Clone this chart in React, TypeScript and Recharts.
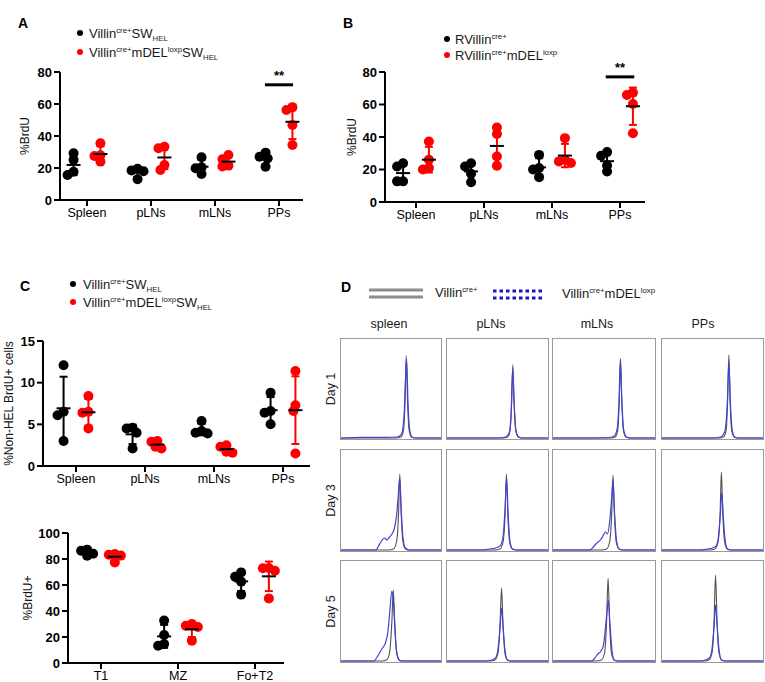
import React from 'react';
import { ScatterChart, Scatter, XAxis, YAxis, ErrorBar, ReferenceLine, LineChart, Line } from 'recharts';

const FONT = '"Liberation Sans", Arial, Helvetica, sans-serif';

// categories
const organs = ['Spleen', 'pLNs', 'mLNs', 'PPs'];
const subsets = ['T1', 'MZ', 'Fo+T2'];
const histCols = ['spleen', 'pLNs', 'mLNs', 'PPs'];
const histDays = ['Day 1', 'Day 3', 'Day 5'];

// A: %BrdU, one array of mice per organ
const aCtrl = [[29.2, 15.6, 17.7, 25.1], [13, 18, 18.5, 19.5], [26.7, 19.8, 16.3, 20.4], [29.6, 20.8, 26, 27]];
const aKo = [[35.5, 28, 24, 27.5], [33.3, 32.3, 18.8, 21.9], [25.4, 28.1, 21, 21.5], [57.9, 56.3, 46.9, 34.4]];

// B: %BrdU, RVillin
const bCtrl = [[23.9, 21.9, 12.7, 12.7], [23.9, 17.4, 12.1, 21.9], [29, 15.3, 20.9, 20], [30.7, 18.8, 22.5, 28.5]];
const bKo = [[37.2, 26, 20.9, 20], [45.8, 41.9, 28, 22.3], [39.3, 26, 25, 24], [65.8, 67.3, 60.3, 42.3]];

// C: %Non-HEL BrdU+ cells
const cCtrl = [[12.1, 6.5, 6.1, 3], [4.5, 4.6, 2.1, 4.0], [5.4, 3.9, 4.0, 4.2], [6.6, 8.8, 5.0, 6.4]];
const cKo = [[8.4, 6.5, 6.4, 4.5], [2.9, 3.0, 2.1, 2.3], [2.3, 2.5, 1.7, 1.6], [11.4, 7.3, 6.6, 1.5]];

// bottom left: %BrdU+ by B cell subset
const eCtrl = [[86.4, 87.2, 82.5, 84], [32.6, 14.6, 13.3, 21.5], [69.7, 66.4, 52.6, 62.5]];
const eKo = [[83.3, 83.8, 77.4, 82.6], [30, 17.2, 28.7, 27.7], [73.1, 71, 49.7, 72.9]];

// D: histogram traces as [channel %, count % of max]
type Pt = [number, number];
const d1SpleenCtrl: Pt[] = [[0, 0], [55, 0], [60, 1], [62.5, 8], [64, 35], [65.2, 83], [66.5, 38], [68, 9], [70.5, 1], [74, 0], [100, 0]];
const d1SpleenKo: Pt[] = [[0, 0], [20, 0.6], [45, 0.6], [56, 1], [60.5, 4], [63, 22], [64.6, 62], [65.6, 80], [67, 36], [68.6, 9], [71, 1], [75, 0], [100, 0]];
const d1PlnCtrl: Pt[] = [[0, 0], [56, 0], [60, 1], [62.5, 8], [64, 36], [65.2, 74], [66.4, 36], [68, 8], [70.5, 1], [74, 0], [100, 0]];
const d1PlnKo: Pt[] = [[0, 0], [50, 0], [58, 1], [61.5, 5], [63.5, 25], [65, 70], [66.5, 35], [68.3, 8], [71, 1], [75, 0], [100, 0]];
const d1MlnCtrl: Pt[] = [[0, 0], [57, 0], [61, 1], [63.5, 8], [65, 38], [66.2, 80], [67.4, 38], [69, 8], [71.5, 1], [75, 0], [100, 0]];
const d1MlnKo: Pt[] = [[0, 0], [40, 0], [55, 0.5], [60, 2], [63, 10], [64.8, 40], [66, 79], [67.5, 38], [69.2, 9], [72, 1], [76, 0], [100, 0]];
const d1PpCtrl: Pt[] = [[0, 0], [57, 0], [61, 1], [63.5, 8], [65, 38], [66.2, 84], [67.4, 38], [69, 8], [71.5, 1], [75, 0], [100, 0]];
const d1PpKo: Pt[] = [[0, 0], [50, 0], [58, 1], [62, 6], [64.5, 32], [66.2, 76], [67.8, 34], [69.5, 8], [72, 1], [76, 0], [100, 0]];

const d3SpleenCtrl: Pt[] = [[0, 0], [48, 0], [52.5, 1], [55.5, 8], [57.5, 35], [58.8, 76], [60.2, 36], [62, 8], [64.5, 1], [68, 0], [100, 0]];
const d3SpleenKo: Pt[] = [[0, 0], [35, 0], [37.5, 4], [40.5, 9], [43.5, 12], [46, 10], [48.5, 13], [51, 16], [53.5, 22], [55.5, 34], [57.3, 55], [58.6, 72], [60, 45], [62, 12], [64.5, 2], [68, 0], [100, 0]];
const d3PlnCtrl: Pt[] = [[0, 0], [48, 0], [52.5, 1], [55.5, 8], [57.5, 35], [58.8, 76], [60.2, 36], [62, 8], [64.5, 1], [68, 0], [100, 0]];
const d3PlnKo: Pt[] = [[0, 0], [36, 0], [42, 1], [48, 2], [52.5, 4], [55.5, 13], [57.5, 42], [59, 72], [60.5, 36], [62.3, 9], [65, 1], [69, 0], [100, 0]];
const d3MlnCtrl: Pt[] = [[0, 0], [48, 0], [52.5, 1], [55.5, 8], [57.5, 35], [58.8, 75], [60.2, 36], [62, 8], [64.5, 1], [68, 0], [100, 0]];
const d3MlnKo: Pt[] = [[0, 0], [36, 0], [39.5, 3], [43, 7], [46.5, 10], [49.5, 15], [51.5, 18], [53.5, 16], [55.5, 28], [57.5, 52], [58.8, 70], [60.3, 38], [62.2, 10], [65, 1], [69, 0], [100, 0]];
const d3PpCtrl: Pt[] = [[0, 0], [48, 0], [52.5, 1], [55.5, 8], [57.5, 36], [58.8, 78], [60.2, 36], [62, 8], [64.5, 1], [68, 0], [100, 0]];
const d3PpKo: Pt[] = [[0, 0], [38, 0], [45, 1], [50, 2], [53.5, 4], [56, 14], [57.8, 36], [59.2, 57], [60.7, 33], [62.5, 10], [65, 1], [69, 0], [100, 0]];

const d5SpleenCtrl: Pt[] = [[0, 0], [41, 0], [45.5, 1], [48.5, 8], [50.8, 38], [52.3, 71], [53.8, 38], [55.5, 9], [58, 1], [62, 0], [100, 0]];
const d5SpleenKo: Pt[] = [[0, 0], [33, 0], [35.5, 3], [38.5, 8], [41.5, 13], [44.5, 18], [47, 30], [49, 52], [50.8, 70], [52.5, 58], [54.2, 26], [56.5, 5], [59.5, 0], [100, 0]];
const d5PlnCtrl: Pt[] = [[0, 0], [43, 0], [47.5, 1], [50.5, 8], [52.5, 36], [54, 73], [55.5, 36], [57.3, 8], [59.8, 1], [63, 0], [100, 0]];
const d5PlnKo: Pt[] = [[0, 0], [38, 0], [44, 1], [48, 3], [50.5, 12], [52.5, 33], [54, 53], [55.6, 33], [57.5, 10], [60, 1], [64, 0], [100, 0]];
const d5MlnCtrl: Pt[] = [[0, 0], [43, 0], [47.5, 1], [50.5, 8], [52.5, 38], [54, 83], [55.5, 38], [57.3, 8], [59.8, 1], [63, 0], [100, 0]];
const d5MlnKo: Pt[] = [[0, 0], [38, 0], [41, 3], [44, 7], [47, 10], [49.5, 16], [51.5, 34], [53, 50], [54.2, 61], [55.8, 38], [57.7, 12], [60, 1], [64, 0], [100, 0]];
const d5PpCtrl: Pt[] = [[0, 0], [42, 0], [46.5, 1], [49.5, 8], [51.5, 38], [53, 86], [54.5, 40], [56.3, 9], [58.8, 1], [62, 0], [100, 0]];
const d5PpKo: Pt[] = [[0, 0], [38, 0], [43, 1], [47, 3], [49.5, 12], [51.5, 34], [53, 56], [54.6, 35], [56.5, 11], [59, 1], [63, 0], [100, 0]];

const histGrid: [Pt[], Pt[]][][] = [
  [[d1SpleenCtrl, d1SpleenKo], [d1PlnCtrl, d1PlnKo], [d1MlnCtrl, d1MlnKo], [d1PpCtrl, d1PpKo]],
  [[d3SpleenCtrl, d3SpleenKo], [d3PlnCtrl, d3PlnKo], [d3MlnCtrl, d3MlnKo], [d3PpCtrl, d3PpKo]],
  [[d5SpleenCtrl, d5SpleenKo], [d5PlnCtrl, d5PlnKo], [d5MlnCtrl, d5MlnKo], [d5PpCtrl, d5PpKo]],
];

// legend text pieces
type Seg = [string, 'n' | 'sup' | 'sub'];
const helCtrl: Seg[] = [['Villin', 'n'], ['cre+', 'sup'], ['SW', 'n'], ['HEL', 'sub']];
const helKo: Seg[] = [['Villin', 'n'], ['cre+', 'sup'], ['mDEL', 'n'], ['loxp', 'sup'], ['SW', 'n'], ['HEL', 'sub']];
const rCtrl: Seg[] = [['RVillin', 'n'], ['cre+', 'sup']];
const rKo: Seg[] = [['RVillin', 'n'], ['cre+', 'sup'], ['mDEL', 'n'], ['loxp', 'sup']];
const vCtrl: Seg[] = [['Villin', 'n'], ['cre+', 'sup']];
const vKo: Seg[] = [['Villin', 'n'], ['cre+', 'sup'], ['mDEL', 'n'], ['loxp', 'sup']];

const mean = (v: number[]) => v.reduce((a, b) => a + b, 0) / v.length;
const sd = (v: number[]) => {
  const m = mean(v);
  return Math.sqrt(v.reduce((a, b) => a + (b - m) ** 2, 0) / (v.length - 1));
};

// simple beeswarm so overlapping dots get pushed sideways
function swarm(values: number[], center: number, yPx: number, xPx: number) {
  const placed: { dx: number; py: number }[] = [];
  const res: { x: number; y: number }[] = new Array(values.length);
  const order = values.map((_, i) => i).sort((a, b) => values[b] - values[a]);
  for (const i of order) {
    const py = values[i] * yPx;
    let dx = 0;
    for (let k = 0; k < 30; k++) {
      const c = k === 0 ? 0 : (k % 2 ? -1 : 1) * Math.ceil(k / 2) * 2;
      if (placed.every((p) => Math.hypot(p.dx - c, p.py - py) >= 6)) {
        dx = c;
        break;
      }
    }
    placed.push({ dx, py });
    res[i] = { x: center + dx / xPx, y: values[i] };
  }
  return res;
}

function Rich({ x, y, size, segs }: { x: number; y: number; size: number; segs: Seg[] }) {
  let shift = 0;
  return (
    <text x={x} y={y} fontSize={size} fill="#1a1a1a" fontFamily={FONT}>
      {segs.map(([t, k], i) => {
        const target = k === 'sup' ? -size * 0.38 : k === 'sub' ? size * 0.2 : 0;
        const dy = target - shift;
        shift = target;
        return (
          <tspan key={i} dy={dy} fontSize={k === 'n' ? size : size * 0.6}>
            {t}
          </tspan>
        );
      })}
    </text>
  );
}

const dot = (color: string) => (p: any) => <circle cx={p.cx} cy={p.cy} r={5} fill={color} />;
const meanBar = (p: any) => <line x1={p.cx - 7} x2={p.cx + 7} y1={p.cy} y2={p.cy} stroke="#000" strokeWidth={2} />;

type DotPlotProps = {
  x0: number; y0: number; w: number; h: number; labelX: number;
  cats: string[]; ctrl: number[][]; ko: number[][];
  yMax: number; yTicks: number[];
  first: number; step: number; off: number;
  yLabel: string; sig?: { from: number; to: number; y: number };
};

function DotPlot(p: DotPlotProps) {
  const axisW = 2 * (p.x0 - p.labelX);
  const lo = (p.x0 - p.first) / p.step;
  const hi = (p.x0 + p.w - p.first) / p.step;
  const yPx = p.h / p.yMax;
  const ctrlPts = p.ctrl.flatMap((v, i) => swarm(v, i - p.off, yPx, p.step));
  const koPts = p.ko.flatMap((v, i) => swarm(v, i + p.off, yPx, p.step));
  const ctrlSum = p.ctrl.map((v, i) => ({ x: i - p.off, y: mean(v), sd: sd(v) }));
  const koSum = p.ko.map((v, i) => ({ x: i + p.off, y: mean(v), sd: sd(v) }));
  const ax = { stroke: '#000', strokeWidth: 2 };
  return (
    <div style={{ position: 'absolute', left: p.x0 - axisW, top: p.y0 - 20 }}>
      <ScatterChart width={axisW + p.w + 10} height={p.h + 60} margin={{ top: 20, right: 10, bottom: 10, left: 0 }}>
        <XAxis
          type="number" dataKey="x" domain={[lo, hi]} allowDataOverflow
          ticks={p.cats.map((_, i) => i)} interval={0}
          tickFormatter={(v: number) => p.cats[v] ?? ''}
          height={30} axisLine={ax} tickLine={ax} tickSize={6}
          tick={{ fill: '#000', fontSize: 12.5, fontFamily: FONT }}
        />
        <YAxis
          type="number" dataKey="y" domain={[0, p.yMax]} allowDataOverflow
          ticks={p.yTicks} interval={0} width={axisW}
          axisLine={ax} tickLine={ax} tickSize={6}
          tick={{ fill: '#000', fontSize: 13, fontWeight: 'bold', fontFamily: FONT }}
          label={{ value: p.yLabel, angle: -90, position: 'center', fill: '#111', fontSize: 12, fontFamily: FONT }}
        />
        <Scatter data={ctrlPts} fill="#000" shape={dot('#000')} isAnimationActive={false} />
        <Scatter data={koPts} fill="#ff0000" shape={dot('#ff0000')} isAnimationActive={false} />
        <Scatter data={ctrlSum} shape={meanBar} isAnimationActive={false}>
          <ErrorBar dataKey="sd" direction="y" width={4} stroke="#000" strokeWidth={2} />
        </Scatter>
        <Scatter data={koSum} shape={meanBar} isAnimationActive={false}>
          <ErrorBar dataKey="sd" direction="y" width={4} stroke="#ff0000" strokeWidth={2} />
        </Scatter>
        {p.sig && (
          <ReferenceLine
            segment={[{ x: p.sig.from, y: p.sig.y }, { x: p.sig.to, y: p.sig.y }]}
            stroke="#000" strokeWidth={3} ifOverflow="visible"
            label={{ value: '**', position: 'top', fill: '#000', fontSize: 13, fontWeight: 'bold', fontFamily: FONT }}
          />
        )}
      </ScatterChart>
    </div>
  );
}

const colBoxes = [{ l: 340, w: 102 }, { l: 446, w: 103 }, { l: 552, w: 104 }, { l: 661, w: 103 }];
const rowBoxes = [{ t: 338, h: 102 }, { t: 449, h: 103 }, { t: 560, h: 103 }];
const colHeadX = [389, 491, 597, 703];

function Histo({ left, top, w, h, ctrl, ko }: { left: number; top: number; w: number; h: number; ctrl: Pt[]; ko: Pt[] }) {
  const c = ctrl.map(([x, y]) => ({ x, y }));
  const k = ko.map(([x, y]) => ({ x, y }));
  return (
    <div style={{ position: 'absolute', left, top, width: w, height: h, border: '1px solid #999', boxSizing: 'border-box' }}>
      <LineChart width={w - 2} height={h - 2} margin={{ top: 0, right: 0, bottom: 1, left: 0 }}>
        <XAxis type="number" dataKey="x" domain={[0, 100]} hide />
        <YAxis type="number" domain={[0, 100]} hide />
        <Line data={c} dataKey="y" type="monotone" stroke="#505050" strokeWidth={1.1} dot={false} isAnimationActive={false} />
        <Line data={k} dataKey="y" type="monotone" stroke="#4343d2" strokeWidth={1.2} dot={false} isAnimationActive={false} />
      </LineChart>
    </div>
  );
}

export default function App() {
  return (
    <div style={{ position: 'absolute', left: 0, top: 0, width: 765, height: 682, background: '#fff', overflow: 'hidden', fontFamily: FONT }}>
      <svg width={765} height={682} style={{ position: 'absolute', left: 0, top: 0 }}>
        <g fontFamily={FONT} fontWeight="bold" fontSize={14} fill="#000">
          <text x={18} y={28}>A</text>
          <text x={343} y={28}>B</text>
          <text x={20} y={291}>C</text>
          <text x={341} y={292}>D</text>
        </g>
        {/* legends */}
        <circle cx={80} cy={33} r={3} fill="#000" />
        <Rich x={89} y={38} size={13} segs={helCtrl} />
        <circle cx={80} cy={52} r={3} fill="#ff0000" />
        <Rich x={89} y={57} size={13} segs={helKo} />

        <circle cx={447} cy={39} r={3} fill="#000" />
        <Rich x={455} y={44} size={13} segs={rCtrl} />
        <circle cx={447} cy={55} r={3} fill="#ff0000" />
        <Rich x={455} y={60} size={13} segs={rKo} />

        <circle cx={73} cy={284} r={3} fill="#000" />
        <Rich x={83} y={289} size={13} segs={helCtrl} />
        <circle cx={73} cy={302} r={3} fill="#ff0000" />
        <Rich x={83} y={307} size={13} segs={helKo} />

        <line x1={369} x2={423} y1={290} y2={290} stroke="#8c8c8c" strokeWidth={3} />
        <line x1={369} x2={423} y1={297} y2={297} stroke="#8c8c8c" strokeWidth={3} />
        <Rich x={435} y={297} size={13} segs={vCtrl} />
        <line x1={493} x2={543} y1={291} y2={291} stroke="#1414c8" strokeWidth={3} strokeDasharray="3.5 3" />
        <line x1={493} x2={543} y1={298} y2={298} stroke="#1414c8" strokeWidth={3} strokeDasharray="3.5 3" />
        <Rich x={562} y={298} size={13} segs={vKo} />

        <g fontFamily={FONT} fontSize={12.5} fill="#1a1a1a" textAnchor="middle">
          {histCols.map((c, i) => (
            <text key={c} x={colHeadX[i]} y={328}>{c}</text>
          ))}
          {histDays.map((d, i) => {
            const cy = rowBoxes[i].t + rowBoxes[i].h / 2;
            return (
              <text key={d} x={335} y={cy} transform={`rotate(-90 335 ${cy})`}>{d}</text>
            );
          })}
        </g>
      </svg>

      <DotPlot x0={60} y0={72} w={243} h={128} labelX={25} cats={organs} ctrl={aCtrl} ko={aKo}
        yMax={80} yTicks={[0, 20, 40, 60, 80]} first={87} step={64} off={0.21} yLabel="%BrdU"
        sig={{ from: 2.78, to: 3.22, y: 72 }} />
      <DotPlot x0={385} y0={72} w={260} h={130} labelX={352} cats={organs} ctrl={bCtrl} ko={bKo}
        yMax={80} yTicks={[0, 20, 40, 60, 80]} first={416} step={68} off={0.19} yLabel="%BrdU"
        sig={{ from: 2.79, to: 3.21, y: 77 }} />
      <DotPlot x0={43} y0={341} w={267} h={125} labelX={9} cats={organs} ctrl={cCtrl} ko={cKo}
        yMax={15} yTicks={[0, 5, 10, 15]} first={76} step={69} off={0.18} yLabel="%Non-HEL BrdU+ cells" />
      <DotPlot x0={68} y0={533} w={216} h={130} labelX={28} cats={subsets} ctrl={eCtrl} ko={eKo}
        yMax={100} yTicks={[0, 20, 40, 60, 80, 100]} first={101} step={77} off={0.18} yLabel="%BrdU+" />

      {histGrid.map((row, r) =>
        row.map(([ctrl, ko], c) => (
          <Histo key={`${r}-${c}`} left={colBoxes[c].l} top={rowBoxes[r].t} w={colBoxes[c].w} h={rowBoxes[r].h} ctrl={ctrl} ko={ko} />
        ))
      )}
    </div>
  );
}
